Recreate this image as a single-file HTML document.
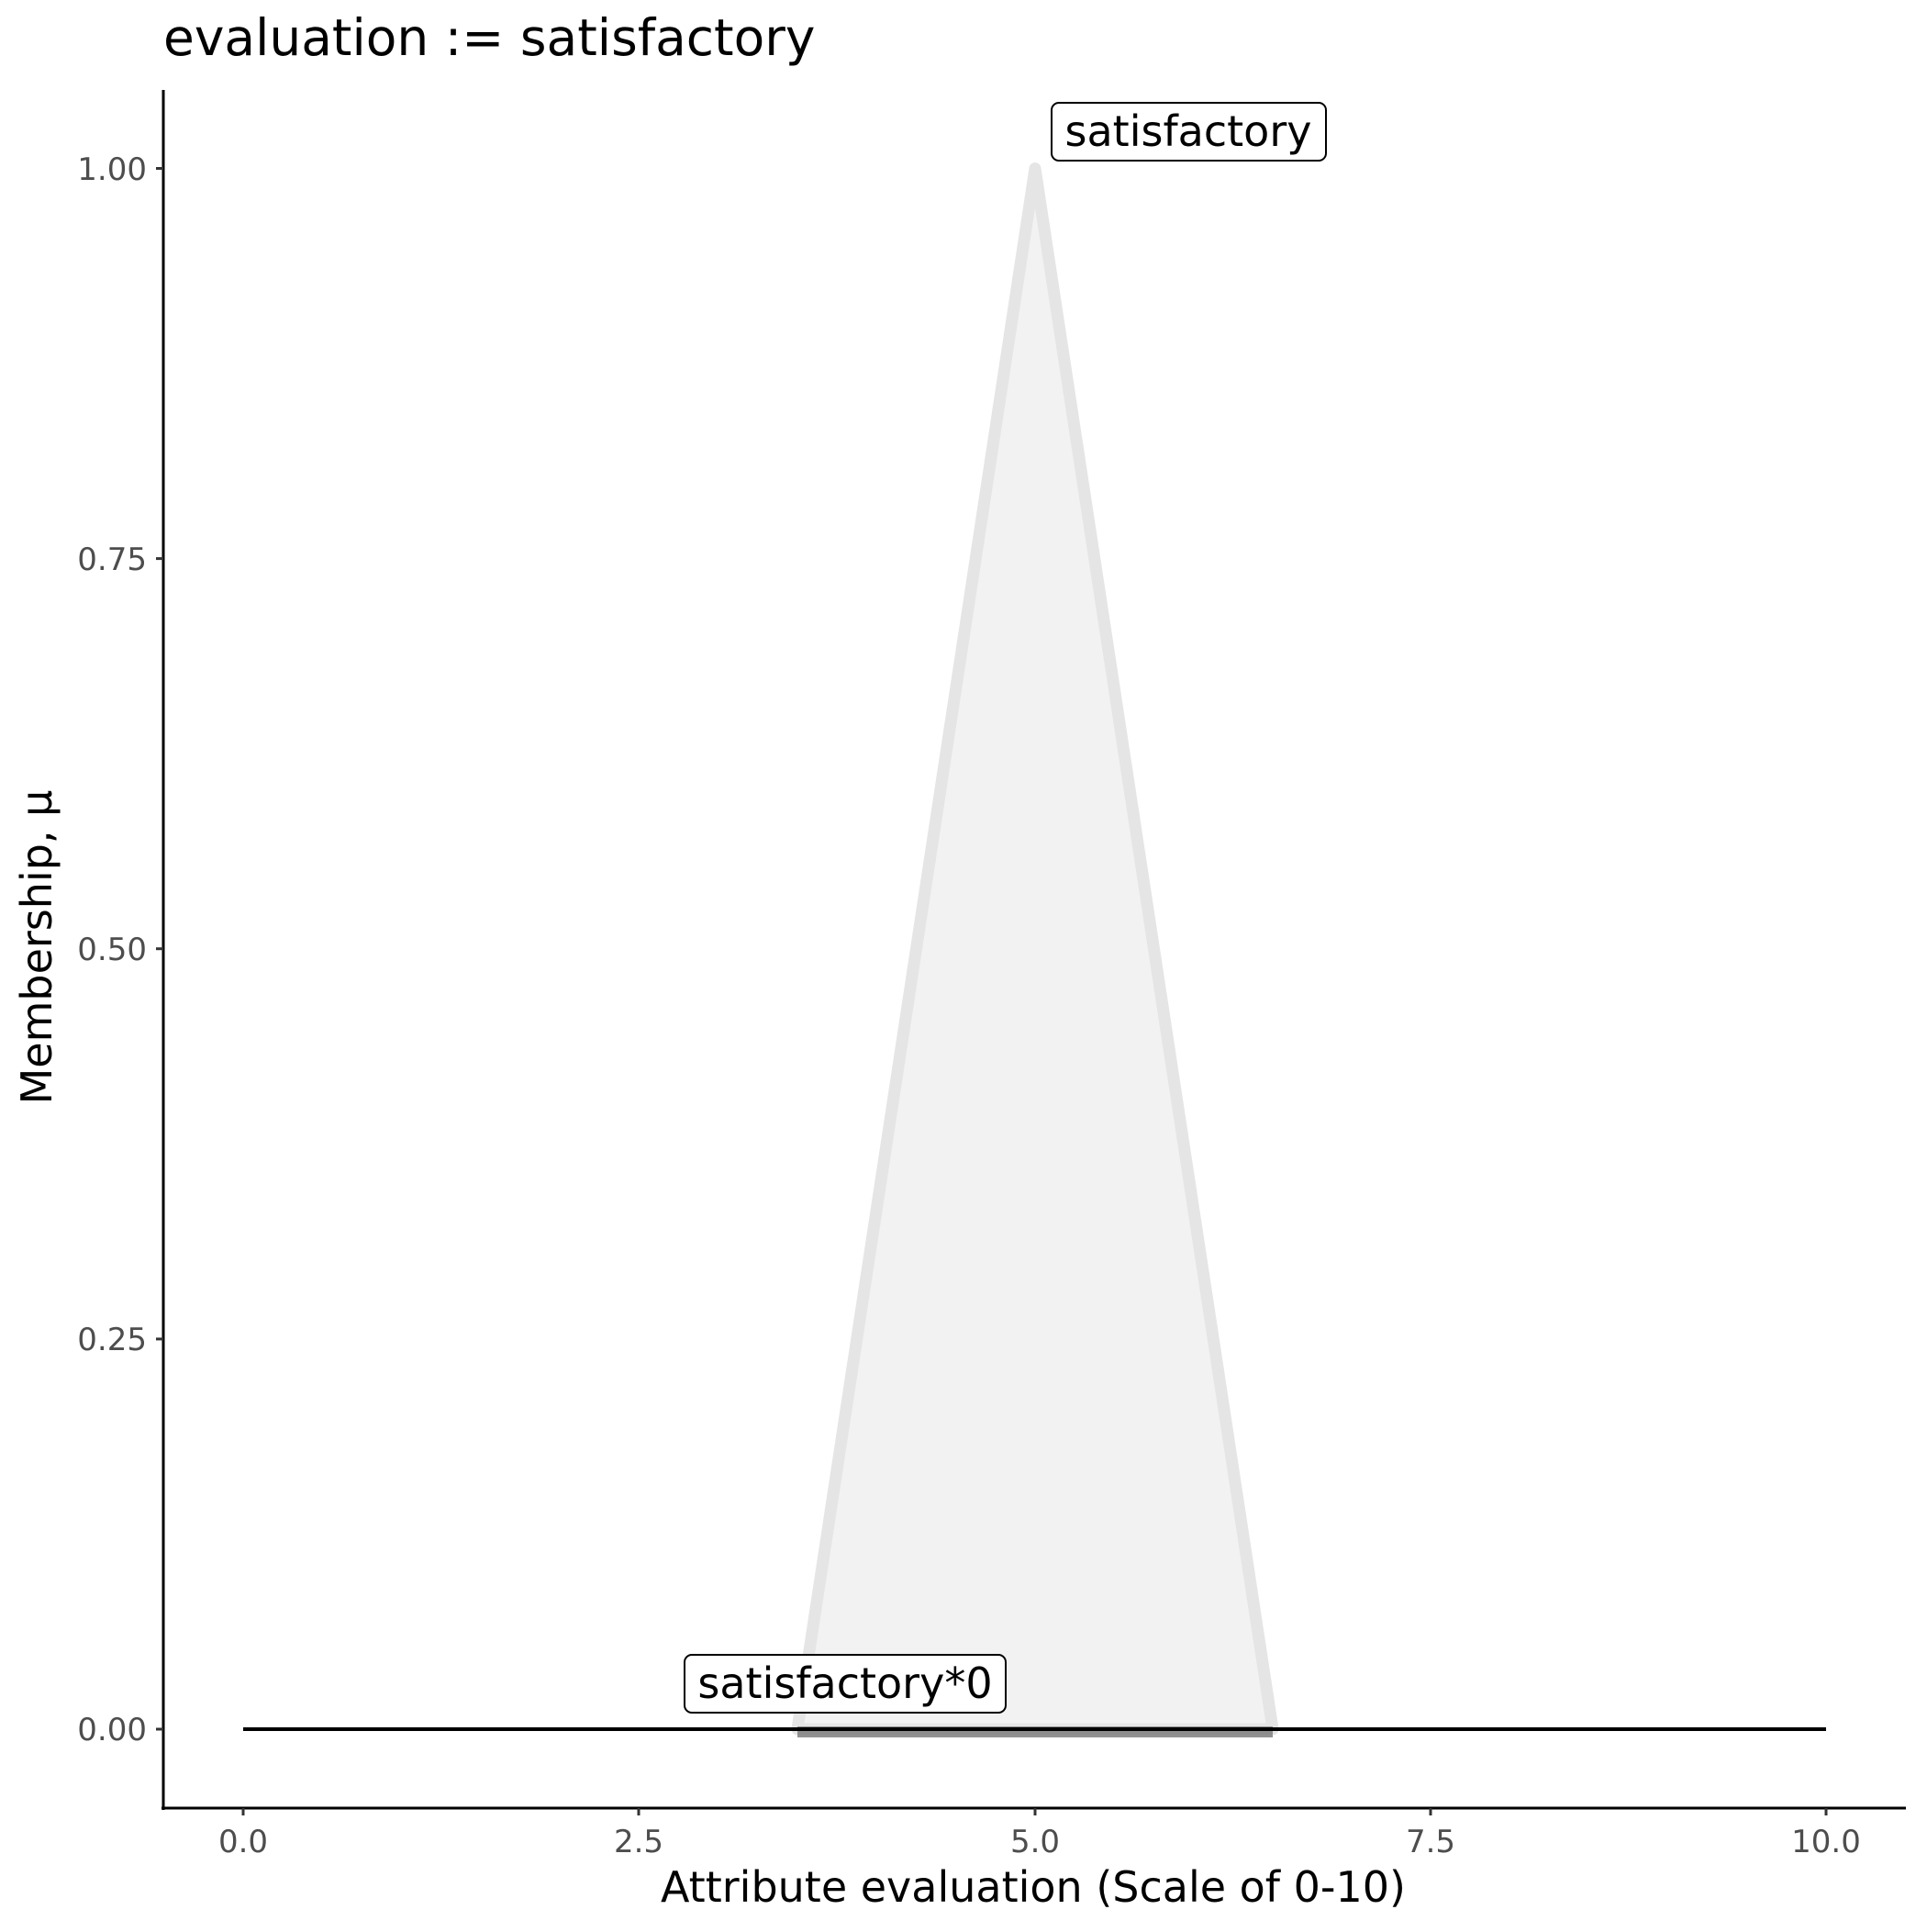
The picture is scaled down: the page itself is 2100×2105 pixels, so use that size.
<!DOCTYPE html>
<html><head><meta charset="utf-8"><style>html,body{margin:0;padding:0;background:#fff}</style></head>
<body>
<svg width="2100" height="2100" xmlns="http://www.w3.org/2000/svg" font-family="DejaVu Sans, Liberation Sans, sans-serif">
<rect width="2100" height="2100" fill="#fff"/>
<text x="178" y="60" font-size="55" fill="#000">evaluation := satisfactory</text>
<polygon points="869,1884 1128,183.5 1387,1884" fill="#f2f2f2" stroke="#e5e5e5" stroke-width="13" stroke-linejoin="round"/>
<line x1="869" y1="1887" x2="1387" y2="1887" stroke="#7f7f7f" stroke-opacity="0.85" stroke-width="12"/>
<line x1="265" y1="1884" x2="1990" y2="1884" stroke="#000" stroke-width="4"/>
<line x1="178" y1="98" x2="178" y2="1972" stroke="#000" stroke-width="3"/>
<line x1="176" y1="1970" x2="2077" y2="1970" stroke="#000" stroke-width="3"/>
<g stroke="#333" stroke-width="3">
<line x1="170" y1="183.5" x2="178" y2="183.5"/><line x1="170" y1="608.6" x2="178" y2="608.6"/>
<line x1="170" y1="1033.7" x2="178" y2="1033.7"/><line x1="170" y1="1458.9" x2="178" y2="1458.9"/>
<line x1="170" y1="1884" x2="178" y2="1884"/>
<line x1="265" y1="1970" x2="265" y2="1978"/><line x1="696" y1="1970" x2="696" y2="1978"/>
<line x1="1128" y1="1970" x2="1128" y2="1978"/><line x1="1559" y1="1970" x2="1559" y2="1978"/>
<line x1="1990" y1="1970" x2="1990" y2="1978"/>
</g>
<g font-size="34" fill="#4d4d4d" text-anchor="end">
<text x="160" y="196">1.00</text><text x="160" y="621">0.75</text><text x="160" y="1046">0.50</text>
<text x="160" y="1471">0.25</text><text x="160" y="1896">0.00</text>
</g>
<g font-size="34" fill="#4d4d4d" text-anchor="middle">
<text x="265" y="2018">0.0</text><text x="696" y="2018">2.5</text><text x="1128" y="2018">5.0</text>
<text x="1559" y="2018">7.5</text><text x="1990" y="2018">10.0</text>
</g>
<text x="1126" y="2072" font-size="46" text-anchor="middle" fill="#000">Attribute evaluation (Scale of 0-10)</text>
<text transform="translate(56,1032) rotate(-90)" font-size="46" text-anchor="middle" fill="#000">Membership, μ</text>
<rect x="1146" y="112" width="299" height="63" rx="8" fill="#fff" stroke="#000" stroke-width="2"/>
<text x="1295" y="159" font-size="46" text-anchor="middle" fill="#000">satisfactory</text>
<rect x="746" y="1803" width="350" height="63" rx="8" fill="#fff" stroke="#000" stroke-width="2"/>
<text x="921" y="1850" font-size="46" text-anchor="middle" fill="#000">satisfactory*0</text>
</svg>
</body></html>
